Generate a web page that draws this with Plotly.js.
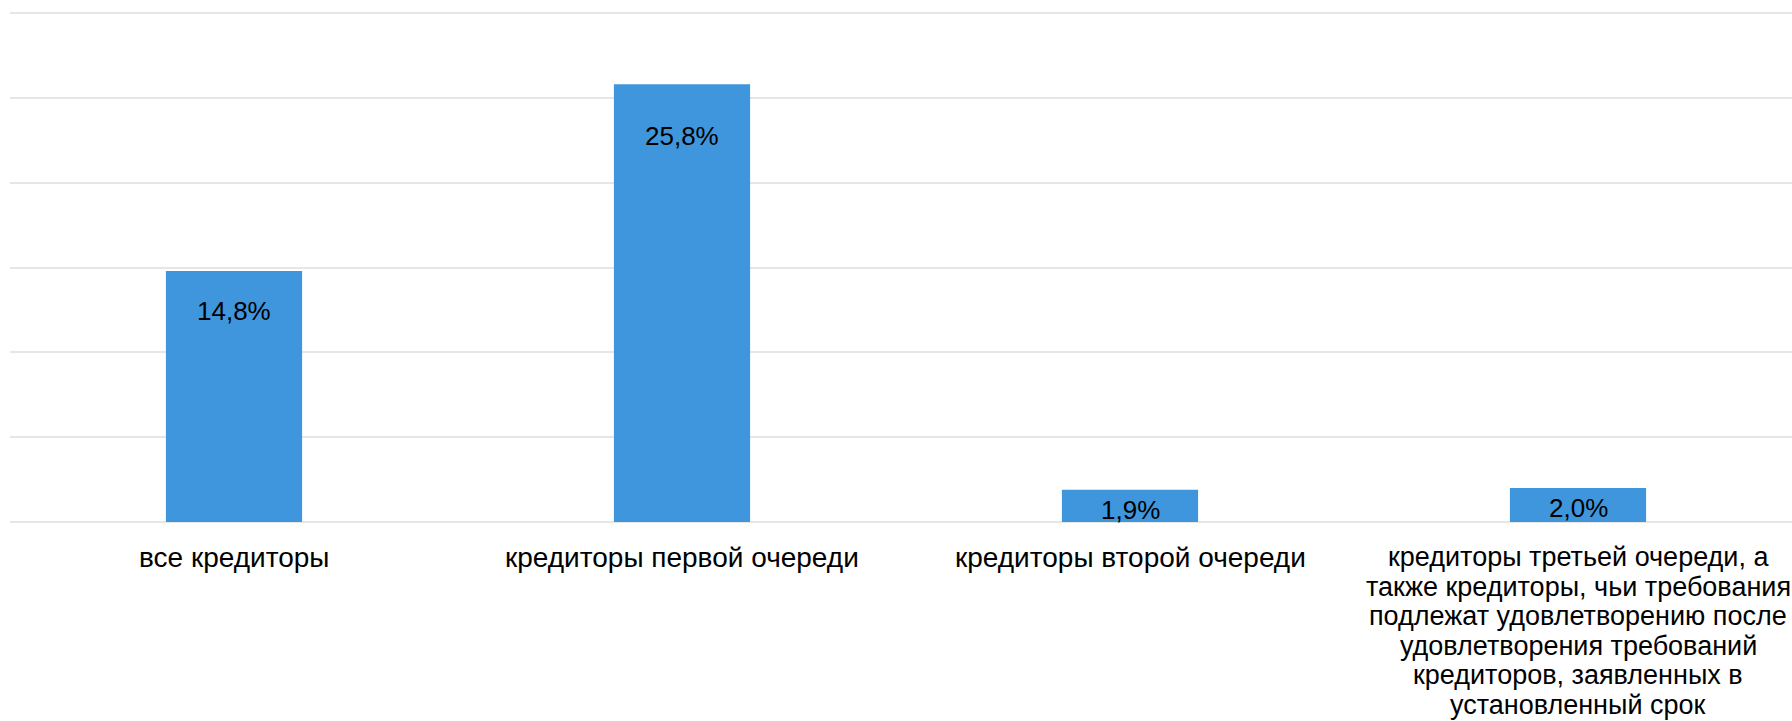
<!DOCTYPE html>
<html>
<head>
<meta charset="utf-8">
<script src="https://cdn.plot.ly/plotly-3.0.1.min.js"></script>
<style>
html,body{margin:0;padding:0;overflow:hidden;background:#fff;}
#chart{width:1802px;height:721px;}
</style>
</head>
<body>
<div id="chart"></div>
<script>
const categories = [
  "все кредиторы",
  "кредиторы первой очереди",
  "кредиторы второй очереди",
  "кредиторы третьей очереди, а<br>также кредиторы, чьи требования<br>подлежат удовлетворению после<br>удовлетворения требований<br>кредиторов, заявленных в<br>установленный срок"
];
const values = [14.8, 25.8, 1.9, 2.0];
const valueLabels = ["14,8%", "25,8%", "1,9%", "2,0%"];
// label placement below bar top, in pixels (style only)
const labelDrop = [38, 50, 18, 18];

const font = "Liberation Sans, Arial, sans-serif";

const annotations = values.map((v, i) => ({
  x: categories[i], y: v, xref: 'x', yref: 'y',
  text: valueLabels[i], showarrow: false,
  yanchor: 'middle', xanchor: 'center',
  yshift: -labelDrop[i] - 2,
  font: {family: font, size: 26, color: '#000'}
}));

// category labels, one annotation per text line for tight line spacing
const catFirstLine = 35, catLineStep = 29.5;
categories.forEach((c) => {
  const lines = c.split('<br>');
  const size = lines.length > 1 ? 27 : 28;
  lines.forEach((line, k) => {
    annotations.push({
      x: c, y: 0, xref: 'x', yref: 'paper',
      text: line, showarrow: false,
      xanchor: 'center', yanchor: 'middle',
      yshift: -(catFirstLine + k * catLineStep),
      font: {family: font, size: size, color: '#000'}
    });
  });
});

const trace = {
  type: 'bar',
  x: categories,
  y: values,
  marker: {color: '#3F96DC'},
  hoverinfo: 'none'
};

const layout = {
  width: 1802, height: 721,
  margin: {l: 10, r: 0, t: 8, b: 199},
  paper_bgcolor: '#fff', plot_bgcolor: '#fff',
  showlegend: false,
  bargap: 0.696,
  font: {family: font, color: '#000'},
  xaxis: {
    type: 'category',
    showgrid: false, zeroline: false, showline: false,
    ticks: '', showticklabels: false,
    automargin: false
  },
  yaxis: {
    range: [0, 30.3], dtick: 5, tick0: 0,
    showticklabels: false, ticks: '',
    showgrid: true, gridcolor: '#E6E6E6', gridwidth: 2,
    zeroline: true, zerolinecolor: '#E6E6E6', zerolinewidth: 2,
    showline: false, fixedrange: true
  },
  annotations: annotations
};

Plotly.newPlot('chart', [trace], layout, {staticPlot: true, displayModeBar: false});
</script>
</body>
</html>
